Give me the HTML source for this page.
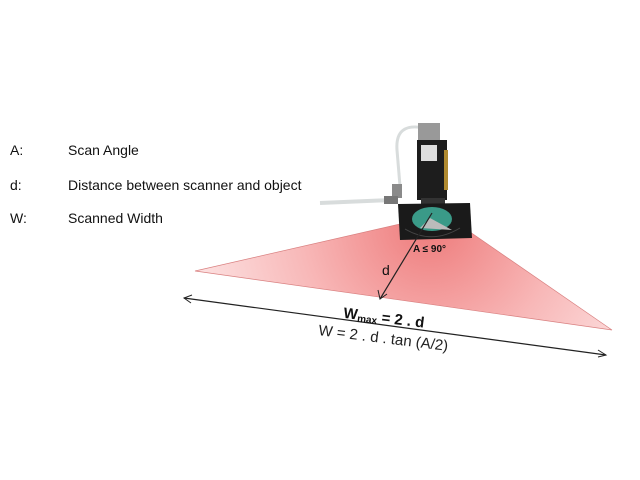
<html><body style="margin:0;width:640px;height:480px;background:#fff;overflow:hidden;font-family:'Liberation Sans',sans-serif">
<svg width="640" height="480" style="position:absolute;left:0;top:0">
<defs><radialGradient id="g" cx="430" cy="225" r="260" gradientUnits="userSpaceOnUse">
<stop offset="0" stop-color="#ee7b7b"/><stop offset="0.5" stop-color="#f8b8b8"/><stop offset="1" stop-color="#fdeaea"/></radialGradient></defs>
<polygon points="195,271 400,224 470,232 612,330" fill="url(#g)" stroke="#d98080" stroke-width="0.7"/>
<path d="M320,203 L392,200" stroke="#d8dcdc" stroke-width="4" fill="none"/>
<path d="M424,128 Q395,122 397,150 L400,186" stroke="#d8dcdc" stroke-width="3" fill="none"/>
<rect x="392" y="184" width="10" height="14" fill="#8a8a8a"/>
<rect x="384" y="196" width="14" height="8" fill="#777"/>
<rect x="418" y="123" width="22" height="18" fill="#999"/>
<rect x="417" y="140" width="30" height="60" fill="#1d1d1d"/>
<rect x="421" y="145" width="16" height="16" fill="#ddd"/>
<rect x="444" y="150" width="4" height="40" fill="#b08a30"/>
<rect x="421" y="198" width="24" height="8" fill="#333"/>
<polygon points="398,204 470,203 472,238 400,240" fill="#1a1a1a"/>
<ellipse cx="432" cy="219" rx="20" ry="12" fill="#3a9a88"/>
<polygon points="430,218 452,230 420,228" fill="#bbb"/>
<path d="M405,229 Q432,245 460,228" stroke="#444" fill="none"/>
<line x1="432" y1="213" x2="380" y2="299" stroke="#222" stroke-width="1.2"/>
<path d="M378,290 L380,299 L387,294" stroke="#222" fill="none"/>
<line x1="184" y1="298" x2="606" y2="355" stroke="#222" stroke-width="1.2"/>
<path d="M192,295 L184,298 L191,303" stroke="#222" fill="none"/>
<path d="M598,350 L606,355 L598,357" stroke="#222" fill="none"/>
<text x="413" y="252" font-size="10" font-weight="bold" fill="#111">A ≤ 90°</text>
<text x="382" y="275" font-size="14" fill="#111">d</text>
<g transform="rotate(7 345 318)"><text x="343" y="318" font-size="15" font-weight="bold" fill="#111">W<tspan font-size="10" dy="2">max</tspan><tspan dy="-2"> = 2 . d</tspan></text></g>
<g transform="rotate(7 318 335)"><text x="318" y="335" font-size="15" fill="#222">W = 2 . d . tan (A/2)</text></g>
<g font-size="14" fill="#111">
<text x="10" y="155">A:</text><text x="68" y="155">Scan Angle</text>
<text x="10" y="190">d:</text><text x="68" y="190">Distance between scanner and object</text>
<text x="10" y="223">W:</text><text x="68" y="223">Scanned Width</text>
</g>
</svg></body></html>
